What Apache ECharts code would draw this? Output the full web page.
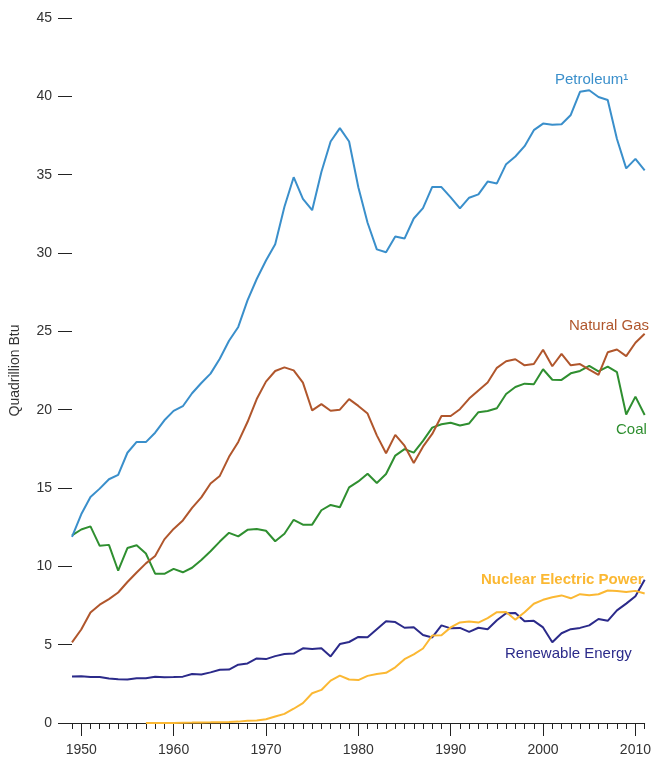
<!DOCTYPE html>
<html>
<head>
<meta charset="utf-8">
<script src="https://cdn.jsdelivr.net/npm/echarts@6/dist/echarts.min.js"></script>
<style>
html,body{margin:0;padding:0;background:#fff;}
#chart{width:654px;height:760px;}
</style>
</head>
<body>
<div id="chart"></div>
<script>
const years = [1949,1950,1951,1952,1953,1954,1955,1956,1957,1958,1959,1960,1961,1962,1963,1964,1965,1966,1967,1968,1969,1970,1971,1972,1973,1974,1975,1976,1977,1978,1979,1980,1981,1982,1983,1984,1985,1986,1987,1988,1989,1990,1991,1992,1993,1994,1995,1996,1997,1998,1999,2000,2001,2002,2003,2004,2005,2006,2007,2008,2009,2010,2011];
const decadeLabels = [1950,1960,1970,1980,1990,2000,2010];
const yTicks = [0,5,10,15,20,25,30,35,40,45];

const petroleum = [11.88,13.32,14.43,14.96,15.56,15.84,17.25,17.94,17.93,18.53,19.32,19.92,20.22,21.05,21.70,22.30,23.25,24.40,25.28,26.98,28.34,29.52,30.56,32.95,34.84,33.45,32.73,35.17,37.12,37.97,37.12,34.20,31.93,30.23,30.05,31.05,30.92,32.20,32.87,34.22,34.21,33.55,32.85,33.53,33.74,34.56,34.44,35.67,36.16,36.82,37.84,38.26,38.19,38.22,38.81,40.29,40.39,39.96,39.77,37.28,35.40,36.01,35.28];
const naturalGas = [5.15,5.97,7.05,7.55,7.91,8.33,9.00,9.61,10.19,10.66,11.72,12.39,12.93,13.73,14.40,15.29,15.77,16.99,17.94,19.21,20.68,21.79,22.47,22.70,22.51,21.73,19.95,20.35,19.93,20.00,20.67,20.24,19.75,18.36,17.22,18.39,17.70,16.59,17.64,18.45,19.60,19.60,20.03,20.71,21.23,21.73,22.67,23.09,23.22,22.83,22.91,23.82,22.77,23.56,22.83,22.91,22.56,22.22,23.66,23.84,23.42,24.27,24.84];
const coal = [11.98,12.35,12.55,11.31,11.37,9.72,11.17,11.35,10.82,9.53,9.52,9.84,9.62,9.91,10.41,10.96,11.58,12.14,11.91,12.33,12.38,12.27,11.60,12.08,12.97,12.66,12.66,13.58,13.92,13.77,15.04,15.42,15.91,15.32,15.89,17.07,17.48,17.26,18.01,18.85,19.07,19.17,18.99,19.12,19.84,19.91,20.09,21.00,21.45,21.66,21.62,22.58,21.91,21.90,22.32,22.47,22.80,22.45,22.75,22.39,19.69,20.83,19.66];
const nuclear = [null,null,null,null,null,null,null,null,0.000,0.002,0.002,0.006,0.020,0.026,0.038,0.040,0.043,0.064,0.088,0.142,0.154,0.239,0.413,0.584,0.910,1.272,1.900,2.111,2.702,3.024,2.776,2.739,3.008,3.131,3.203,3.553,4.076,4.380,4.754,5.587,5.602,6.104,6.422,6.479,6.410,6.694,7.075,7.087,6.597,7.068,7.610,7.862,8.029,8.145,7.959,8.222,8.160,8.215,8.455,8.427,8.356,8.434,8.269];
const renewable = [2.97,2.98,2.94,2.94,2.84,2.79,2.78,2.85,2.86,2.95,2.92,2.93,2.96,3.13,3.10,3.23,3.40,3.41,3.72,3.80,4.12,4.08,4.27,4.40,4.43,4.77,4.72,4.77,4.25,5.04,5.17,5.49,5.47,5.99,6.50,6.44,6.08,6.11,5.62,5.46,6.23,6.04,6.07,5.82,6.08,5.99,6.56,7.01,7.02,6.49,6.52,6.10,5.16,5.73,5.99,6.07,6.23,6.64,6.52,7.19,7.62,8.09,9.14];

const seriesNames = ['Petroleum\u00b9','Natural Gas','Coal','Nuclear Electric Power','Renewable Energy'];
const seriesColors = ['#3a8fcb','#b0562c','#2f8f30','#fbb833','#2b2a8a'];
const seriesData = [petroleum, naturalGas, coal, nuclear, renewable];

const FONT = '"Liberation Sans", Arial, sans-serif';
const chart = echarts.init(document.getElementById('chart'));

function pairs(arr){ return years.map((y,i)=>[y, arr[i]]).filter(p=>p[1]!==null); }

const labelPos = [
  {x:555, y:80, bold:false},
  {x:569, y:326, bold:false},
  {x:616, y:430, bold:false},
  {x:481, y:580, bold:true},
  {x:505, y:654, bold:false}
];

chart.setOption({
  animation:false,
  backgroundColor:'#fff',
  grid:{left:72, right:8.5, top:18, bottom:37, containLabel:false},
  xAxis:[{
    type:'value', min:1949, max:2011, interval:1,
    axisLine:{show:true, lineStyle:{color:'#222', width:1}},
    axisTick:{show:true, length:6, lineStyle:{color:'#222'}},
    axisLabel:{show:true, margin:20, fontSize:14, color:'#333', fontFamily:FONT,
      formatter:v=> decadeLabels.indexOf(v)>=0 ? String(v) : ''},
    splitLine:{show:false}
  },{
    type:'value', min:1949, max:2011, position:'bottom',
    axisLine:{show:false},
    axisTick:{show:true, length:13, lineStyle:{color:'#222'}, customValues:decadeLabels},
    axisLabel:{show:false, customValues:decadeLabels},
    splitLine:{show:false}
  }],
  yAxis:{
    type:'value', min:0, max:45, interval:5,
    name:'Quadrillion Btu', nameLocation:'middle', nameGap:50,
    nameTextStyle:{fontSize:14, color:'#333', fontFamily:FONT},
    axisLine:{show:false},
    axisTick:{show:true, length:14, lineStyle:{color:'#222'}},
    axisLabel:{margin:20, fontSize:14, color:'#333', fontFamily:FONT,
      formatter:v=> yTicks.indexOf(v)>=0 ? String(v) : ''},
    splitLine:{show:false}
  },
  series: seriesNames.map((n,i)=>({
    name:n, type:'line', data:pairs(seriesData[i]), symbol:'none', smooth:false,
    lineStyle:{color:seriesColors[i], width:2}, z: 10 - i
  })),
  graphic: seriesNames.map((n,i)=>({
    type:'text', left:labelPos[i].x, top:labelPos[i].y-8,
    style:{text:n, fill:seriesColors[i], font:(labelPos[i].bold?'bold ':'')+'15px '+FONT}
  }))
});
</script>
</body>
</html>
